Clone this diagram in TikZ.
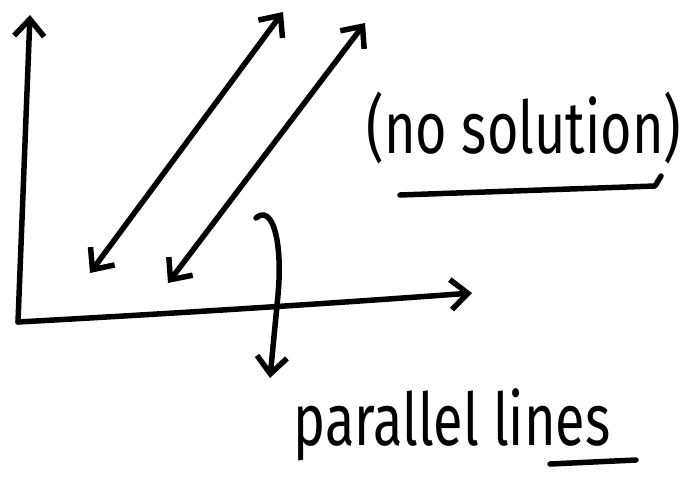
\documentclass[tikz,border=0pt]{standalone}
\usepackage{fontspec}
\setmainfont{Fira Sans}
\usetikzlibrary{arrows.meta}
\usepackage{xcolor}
\definecolor{ink}{RGB}{0,0,0}
\tikzset{
  pen/.style={draw=ink,line width=5.5pt,line cap=round,line join=round},
  arr/.style={pen,-{Straight Barb[length=17pt,width=30pt]}},
  darr/.style={pen,{Straight Barb[length=17pt,width=30pt]}-{Straight Barb[length=17pt,width=30pt]}},
  hand/.style={font=\fontsize{54}{60}\selectfont,inner sep=0pt,anchor=base,text=ink},
}

\begin{document}
\begin{tikzpicture}[x=1pt,y=-1pt]
        \useasboundingbox (0,0) rectangle (692,487);
        \coordinate (o) at (18,322);
        \coordinate (ytop) at (30,15);
        \coordinate (xend) at (472,293);
        \coordinate (a1) at (90,273);
        \coordinate (b1) at (283,12);
        \coordinate (a2) at (168,283);
        \coordinate (b2) at (365,23);
        \coordinate (hk) at (256,218);
        \coordinate (hd) at (270,378);
        \draw[arr] (o) -- (ytop);
        \draw[arr] (o) .. controls (200,312) and (350,302) .. (xend);
        \draw[darr] (a1) -- (b1);
        \draw[darr] (a2) -- (b2);
        \draw[arr] (hk) .. controls (272,204) and (283,240) .. (278,295) -- (hd);
        \node[hand] (nosol) at (524,153) {\scalebox{1}[1.35]{(no solution)}};
        \node[hand] (par) at (452,445) {\scalebox{1}[1.35]{parallel lines}};
        \coordinate (u1) at (400,195);
        \coordinate (u2) at (655,186);
        \coordinate (v1) at (550,464);
        \coordinate (v2) at (636,460);
        \draw[pen] (u1) -- (u2) -- (661,176);
        \draw[pen] (v1) -- (v2);
      \end{tikzpicture}
\end{document}
